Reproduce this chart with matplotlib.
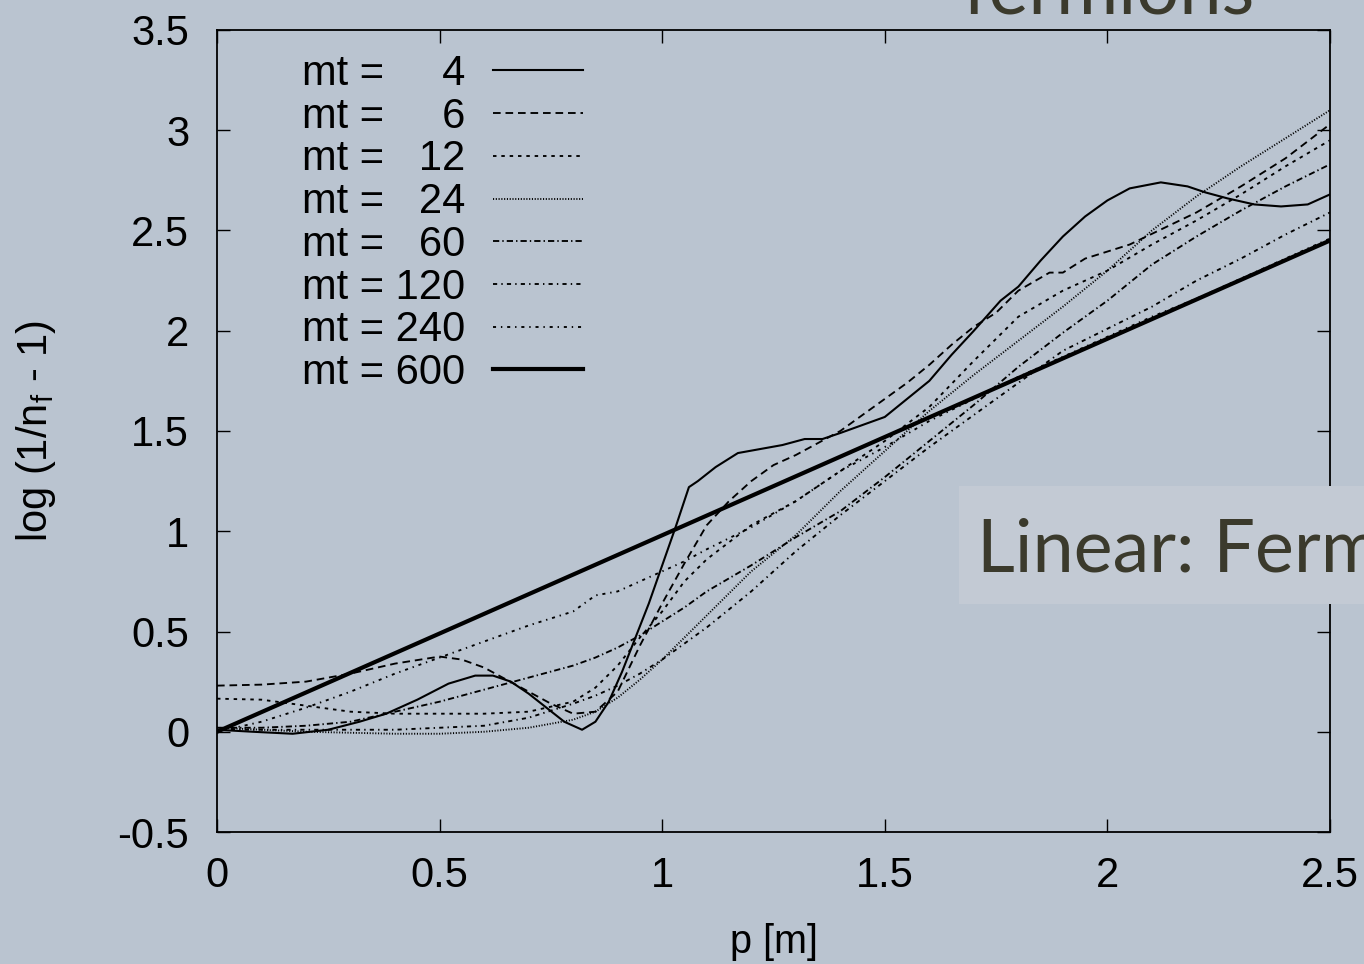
import matplotlib.pyplot as plt
from matplotlib.patches import Rectangle

# ---- data ----
mt_labels = ["mt =     4", "mt =     6", "mt =   12", "mt =   24",
             "mt =   60", "mt = 120", "mt = 240", "mt = 600"]

p_mt4 = [0, 0.08, 0.17, 0.25, 0.32, 0.38, 0.45, 0.52, 0.58, 0.62, 0.66, 0.70,
         0.74, 0.78, 0.82, 0.85, 0.88, 0.91, 0.94, 0.97, 1.00, 1.03, 1.06, 1.08,
         1.12, 1.17, 1.22, 1.27, 1.32, 1.36, 1.40, 1.45, 1.50, 1.55, 1.60, 1.65,
         1.70, 1.76, 1.80, 1.85, 1.90, 1.95, 2.00, 2.05, 2.12, 2.18, 2.22, 2.27,
         2.33, 2.39, 2.45, 2.50]
y_mt4 = [0.01, 0.0, -0.01, 0.01, 0.05, 0.09, 0.16, 0.24, 0.28, 0.28, 0.25, 0.19,
         0.12, 0.05, 0.01, 0.05, 0.15, 0.30, 0.47, 0.64, 0.83, 1.02, 1.22, 1.25,
         1.32, 1.39, 1.41, 1.43, 1.46, 1.46, 1.49, 1.53, 1.57, 1.66, 1.75, 1.88,
         2.00, 2.15, 2.22, 2.35, 2.47, 2.57, 2.65, 2.71, 2.74, 2.72, 2.69, 2.66,
         2.63, 2.62, 2.63, 2.68]

p_mt6 = [0, 0.1, 0.2, 0.3, 0.4, 0.5, 0.55, 0.6, 0.65, 0.7, 0.75, 0.8, 0.85, 0.9,
         0.95, 1.0, 1.05, 1.1, 1.15, 1.2, 1.25, 1.3, 1.4, 1.45, 1.5, 1.55, 1.6,
         1.65, 1.7, 1.75, 1.8, 1.87, 1.9, 1.95, 2.05, 2.2, 2.3, 2.4, 2.5]
y_mt6 = [0.23, 0.235, 0.25, 0.29, 0.34, 0.375, 0.36, 0.32, 0.26, 0.20, 0.14, 0.09,
         0.10, 0.20, 0.43, 0.64, 0.84, 1.03, 1.15, 1.25, 1.33, 1.38, 1.50, 1.58,
         1.66, 1.74, 1.83, 1.93, 2.02, 2.09, 2.20, 2.29, 2.29, 2.36, 2.43, 2.59,
         2.72, 2.86, 3.03]

p_grid = [0, 0.1, 0.2, 0.3, 0.4, 0.5, 0.6, 0.7, 0.8, 0.85, 0.9, 0.95, 1.0, 1.05,
          1.1, 1.2, 1.3, 1.4, 1.5, 1.6, 1.7, 1.8, 1.9, 2.0, 2.1, 2.2, 2.3, 2.4, 2.5]
y_mt12 = [0.165, 0.16, 0.13, 0.10, 0.09, 0.09, 0.09, 0.10, 0.15, 0.22, 0.33, 0.47,
          0.60, 0.75, 0.86, 1.03, 1.15, 1.30, 1.45, 1.62, 1.85, 2.07, 2.20, 2.30,
          2.43, 2.55, 2.68, 2.82, 2.95]
y_mt24 = [0.02, 0.01, 0.0, -0.005, -0.01, -0.01, 0.0, 0.02, 0.06, 0.10, 0.17, 0.26,
          0.36, 0.47, 0.58, 0.80, 0.98, 1.20, 1.40, 1.60, 1.78, 1.95, 2.12, 2.30,
          2.50, 2.67, 2.82, 2.96, 3.10]
y_mt60 = [0.02, 0.02, 0.03, 0.05, 0.10, 0.15, 0.21, 0.27, 0.33, 0.37, 0.42, 0.48,
          0.55, 0.62, 0.70, 0.83, 0.97, 1.10, 1.27, 1.45, 1.63, 1.82, 1.99, 2.15,
          2.33, 2.47, 2.60, 2.72, 2.83]
y_mt120 = [0.01, 0.01, 0.01, 0.01, 0.01, 0.02, 0.03, 0.07, 0.14, 0.18, 0.23, 0.29,
           0.36, 0.44, 0.52, 0.70, 0.90, 1.08, 1.25, 1.42, 1.58, 1.74, 1.90, 2.01,
           2.12, 2.25, 2.36, 2.48, 2.59]
y_mt240 = [0.0, 0.05, 0.12, 0.20, 0.29, 0.37, 0.45, 0.53, 0.60, 0.68, 0.70, 0.75,
           0.80, 0.85, 0.91, 1.02, 1.15, 1.30, 1.42, 1.55, 1.66, 1.77, 1.87, 1.97,
           2.07, 2.16, 2.26, 2.36, 2.46]

p_mt600 = [0, 0.5, 1.0, 1.5, 2.0, 2.5]
y_mt600 = [0.0, 0.49, 0.98, 1.47, 1.96, 2.45]

xticks = [0, 0.5, 1, 1.5, 2, 2.5]
yticks = [-0.5, 0, 0.5, 1, 1.5, 2, 2.5, 3, 3.5]

# ---- style ----
bg = "#bac4d0"
ink = "#3b3a2c"
fs = 30
plt.rcParams["font.family"] = ["Liberation Sans", "DejaVu Sans"]
plt.rcParams["mathtext.fontset"] = "custom"
plt.rcParams["mathtext.rm"] = "Liberation Sans"
plt.rcParams["mathtext.it"] = "Liberation Sans"
plt.rcParams["lines.scale_dashes"] = False

fig = plt.figure(figsize=(13.64, 9.64), dpi=100, facecolor=bg)
ax = fig.add_axes([217 / 1364, 132 / 964, 1113 / 1364, 802 / 964])
ax.set_facecolor(bg)

series = [
    (p_mt4, y_mt4, dict(lw=1.5, ls="-")),
    (p_mt6, y_mt6, dict(lw=1.35, dashes=(5.5, 3.5))),
    (p_grid, y_mt12, dict(lw=1.35, dashes=(2.5, 3.5))),
    (p_grid, y_mt24, dict(lw=1.35, dashes=(0.8, 1.2))),
    (p_grid, y_mt60, dict(lw=1.35, dashes=(4.5, 2.2, 1.0, 2.2))),
    (p_grid, y_mt120, dict(lw=1.35, dashes=(3.0, 3.0, 1.0, 3.0))),
    (p_grid, y_mt240, dict(lw=1.35, dashes=(2.2, 3.5, 1.0, 3.5))),
    (p_mt600, y_mt600, dict(lw=3.0, ls="-")),
]
for (px, py, st), lab in zip(series, mt_labels):
    ax.plot(px, py, color="black", label=lab, **st)

ax.set_xlim(0, 2.5)
ax.set_ylim(-0.5, 3.5)
ax.set_xticks(xticks)
ax.set_yticks(yticks)
ax.set_xticklabels([f"{v:g}" for v in xticks])
ax.set_yticklabels([f"{v:g}" for v in yticks])
ax.tick_params(direction="in", length=9.5, width=1, labelsize=fs,
               top=True, right=True)
ax.tick_params(axis="x", pad=17)
ax.tick_params(axis="y", pad=20)
for s in ax.spines.values():
    s.set_linewidth(1.3)

ax.set_xlabel("p [m]", fontsize=28.5)
ax.xaxis.set_label_coords(0.5, -0.114)
ax.set_ylabel(r"log (1/n$_\mathrm{f}$ - 1)", fontsize=30)
ax.yaxis.set_label_coords(-0.143, 0.5)

leg = ax.legend(loc="upper left", bbox_to_anchor=(0.076, 0.970),
                markerfirst=False, frameon=False, fontsize=fs,
                handlelength=2.16, handletextpad=0.67, labelspacing=0.065,
                borderpad=0, borderaxespad=0)

# slide decorations
fig.patches.append(Rectangle((959 / 1364, (964 - 604) / 964), 0.5, 118 / 964,
                             transform=fig.transFigure, facecolor="#c3cad4",
                             edgecolor="none", zorder=5))
fig.text(977 / 1364, (964 - 572) / 964, "Linear: Fermi-Dirac", fontsize=53,
         color=ink, family=["Lato", "DejaVu Sans"], va="baseline", zorder=6)
fig.text(962 / 1364, 1 - 13 / 964, "fermions", fontsize=54.5, color=ink,
         family=["Lato", "DejaVu Sans"], va="baseline")

fig.savefig("out.png", dpi=100, facecolor=bg)
